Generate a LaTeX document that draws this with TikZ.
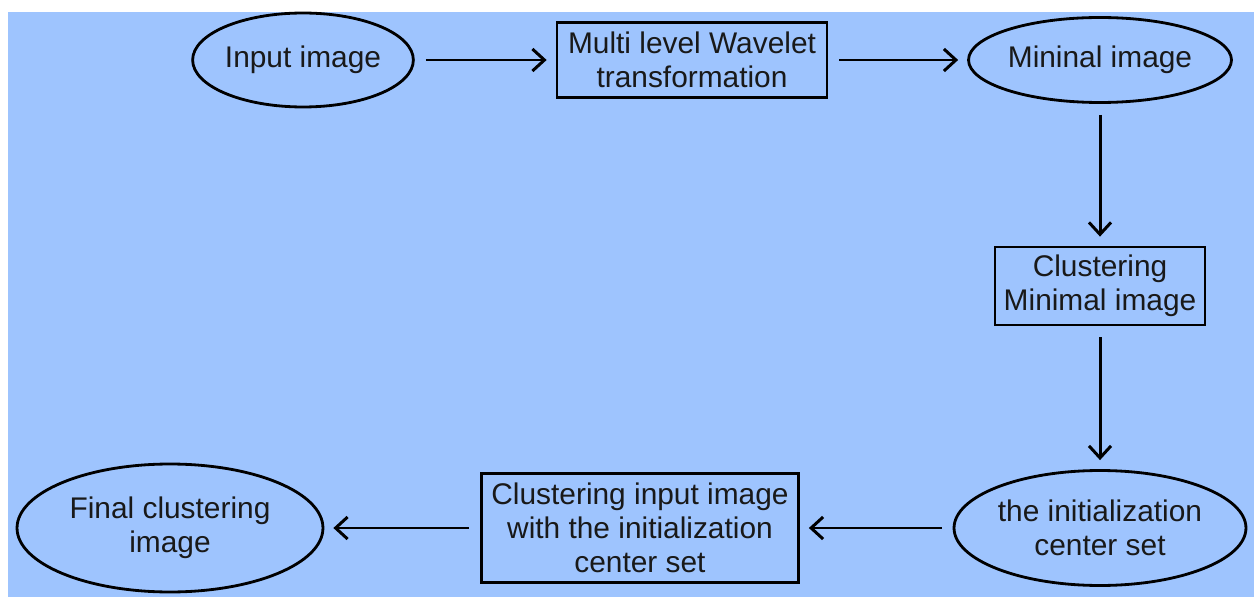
\documentclass[tikz,border=0pt]{standalone}
\usepackage{fontspec}
\setmainfont{Liberation Sans}
\usetikzlibrary{shapes.geometric,arrows.meta}
\definecolor{skyback}{RGB}{158,196,254}

\begin{document}
\begin{tikzpicture}[x=0.02cm,y=-0.02cm,line width=1.6pt,
    font=\fontsize{17}{19.5}\selectfont,
    >={Straight Barb[length=0.24cm,width=0.44cm]}]

        \useasboundingbox (0,0) rectangle (1254,601);
        \fill[skyback] (8,12) rectangle (1254,597);

        \begin{scope}[every node/.style={draw,inner sep=0pt,align=center,text=black!90}]
          \node[ellipse,minimum width=4.4cm,minimum height=1.88cm]    (in)    at (303,60)   {Input image};
          \node[rectangle,minimum width=5.4cm,minimum height=1.5cm]   (wav)   at (692,60)   {Multi level Wavelet\\transformation};
          \node[ellipse,minimum width=5.26cm,minimum height=1.7cm]    (mini)  at (1100,60)  {Mininal image};
          \node[rectangle,minimum width=4.2cm,minimum height=1.56cm]  (clmin) at (1100,286) {Clustering\\Minimal image};
          \node[ellipse,minimum width=5.84cm,minimum height=2.3cm]    (init)  at (1100,528) {the initialization\\center set};
          \node[rectangle,minimum width=6.34cm,minimum height=2.18cm] (clin)  at (640,528)  {Clustering input image\\with the initialization\\center set};
          \node[ellipse,minimum width=6.12cm,minimum height=2.56cm]   (fin)   at (170,528)  {Final clustering\\image};
        \end{scope}

        \begin{scope}[line width=1.7pt,shorten >=0.18cm,shorten <=0.22cm]
          \draw[->] (in)    -- (wav);
          \draw[->] (wav)   -- (mini);
          \draw[->] (mini)  -- (clmin);
          \draw[->] (clmin) -- (init);
          \draw[->] (init)  -- (clin);
          \draw[->] (clin)  -- (fin);
        \end{scope}

      \end{tikzpicture}
\end{document}
